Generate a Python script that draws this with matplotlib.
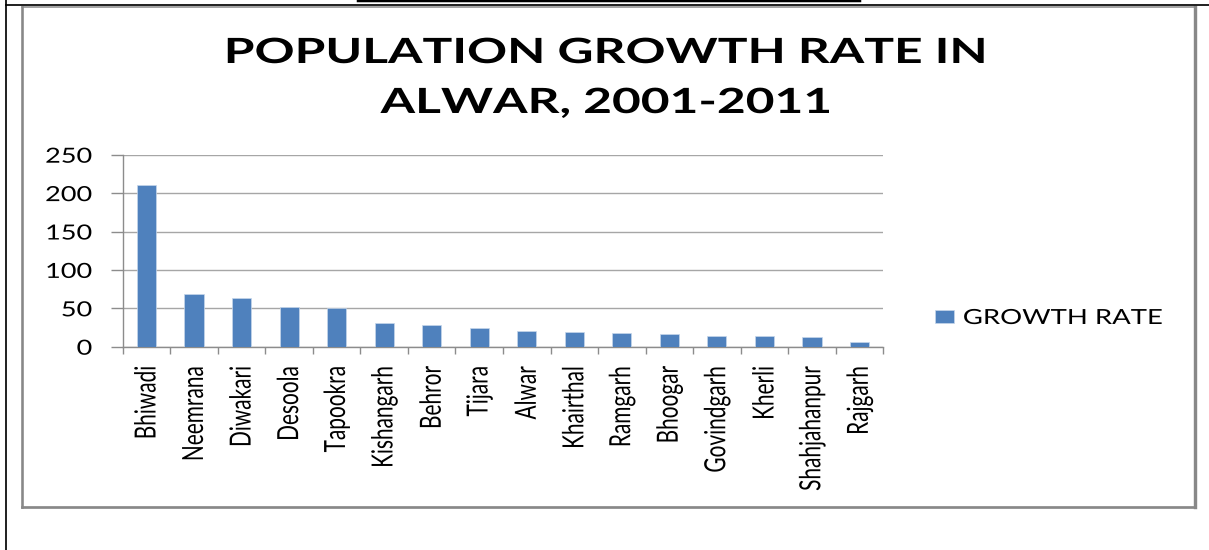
import matplotlib
matplotlib.use("Agg")
import matplotlib.pyplot as plt
import numpy as np
from matplotlib.lines import Line2D
from matplotlib.patheffects import AbstractPathEffect
from matplotlib.transforms import Affine2D

# growth rate (%) by town, 2001-2011
towns = ["Bhiwadi", "Neemrana", "Diwakari", "Desoola", "Tapookra", "Kishangarh",
         "Behror", "Tijara", "Alwar", "Khairthal", "Ramgarh", "Bhoogar",
         "Govindgarh", "Kherli", "Shahjahanpur", "Rajgarh"]
growth_rate = [210, 69, 63, 52, 50, 31, 28, 24, 21, 19.5, 18, 16.5, 13.5, 13.5, 12, 6.5]
y_ticks = [0, 50, 100, 150, 200, 250]
series_name = "GROWTH RATE"
title_lines = ["POPULATION GROWTH RATE IN", "ALWAR, 2001-2011"]

W, H = 1209, 550
BAR = "#4f81bd"
GRID = "#a6a6a6"
AXIS = "#8c8c8c"

plt.rcParams["font.family"] = ["Lato", "DejaVu Sans"]


class Widen(AbstractPathEffect):
    """Draw text outlines stretched sideways about the left/centre/right of the ink."""

    def __init__(self, factor, anchor="center"):
        super().__init__()
        self.factor = factor
        self.anchor = anchor

    def draw_path(self, renderer, gc, tpath, affine, rgbFace=None):
        ext = tpath.transformed(affine).get_extents()
        cx = {"left": ext.x0, "center": 0.5 * (ext.x0 + ext.x1), "right": ext.x1}[self.anchor]
        stretch = Affine2D().translate(-cx, 0).scale(self.factor, 1).translate(cx, 0)
        renderer.draw_path(gc, tpath, affine + stretch, rgbFace)


fig = plt.figure(figsize=(W / 100, H / 100), dpi=100)
fig.patch.set_facecolor("white")
# pixel coordinates measured from the top-left corner
px = Affine2D().scale(1 / W, -1 / H).translate(0, 1) + fig.transFigure

ax = fig.add_axes([122.7 / W, 1 - 346.7 / H, 760.6 / W, 192 / H])
x = np.arange(len(towns))
ax.bar(x, growth_rate, width=0.4, color=BAR, edgecolor="#c6d6ea", linewidth=0.5,
       label=series_name, zorder=3)
ax.set_xlim(-0.5, len(towns) - 0.5)
ax.set_ylim(0, 250)
ax.set_yticks(y_ticks)
ax.yaxis.grid(True, color=GRID, lw=1.0)
ax.set_axisbelow(True)
for s in ["top", "right"]:
    ax.spines[s].set_visible(False)
for s in ["left", "bottom"]:
    ax.spines[s].set_color(AXIS)
    ax.spines[s].set_linewidth(1.0)

ax.tick_params(axis="y", direction="out", length=8.6, width=1, color=AXIS,
               pad=13.4, labelsize=15)
ax.set_xticks(x)
ax.set_xticklabels(towns, rotation=90)
ax.set_xticks(np.arange(len(towns) + 1) - 0.5, minor=True)
ax.tick_params(axis="x", which="major", length=0, pad=13.9, labelsize=15)
ax.tick_params(axis="x", which="minor", direction="out", length=5, width=1, color=AXIS)

for lbl in ax.get_yticklabels():
    lbl.set_path_effects([Widen(1.3, "right")])
for lbl in ax.get_xticklabels():
    lbl.set_path_effects([Widen(1.4, "center")])

leg = fig.legend(loc="center left", bbox_to_anchor=(935 / W, 1 - 318 / H), frameon=False,
                 fontsize=15, handlelength=0.9, handleheight=0.6, handletextpad=0.45,
                 borderpad=0, borderaxespad=0)
for t in leg.get_texts():
    t.set_path_effects([Widen(1.32, "left")])

for line, base in zip(title_lines, [63, 113]):
    fig.text(606 / W, 1 - base / H, line, ha="center", va="baseline", fontsize=25,
             fontweight="bold", color="black", path_effects=[Widen(1.43)])

# chart frame
for xs, ys, lw in [([22, 22], [6.7, 507.3], 2.6), ([1195, 1195], [6.7, 507.3], 3.4),
                   ([22, 1195], [6.7, 6.7], 1.5), ([22, 1195], [507.3, 507.3], 2.7)]:
    fig.add_artist(Line2D(xs, ys, transform=px, color="#888888", lw=lw * 0.72,
                          solid_capstyle="projecting"))

# page rules around the chart
fig.add_artist(Line2D([5.8, 5.8], [0, H], transform=px, color="black", lw=1.7 * 0.72))
fig.add_artist(Line2D([5.8, W], [4.8, 4.8], transform=px, color="black", lw=1.7 * 0.72))
fig.add_artist(Line2D([358, 860], [1.2, 1.2], transform=px, color="black", lw=2.5 * 0.72))

fig.savefig("out.png", dpi=100, facecolor="white")
